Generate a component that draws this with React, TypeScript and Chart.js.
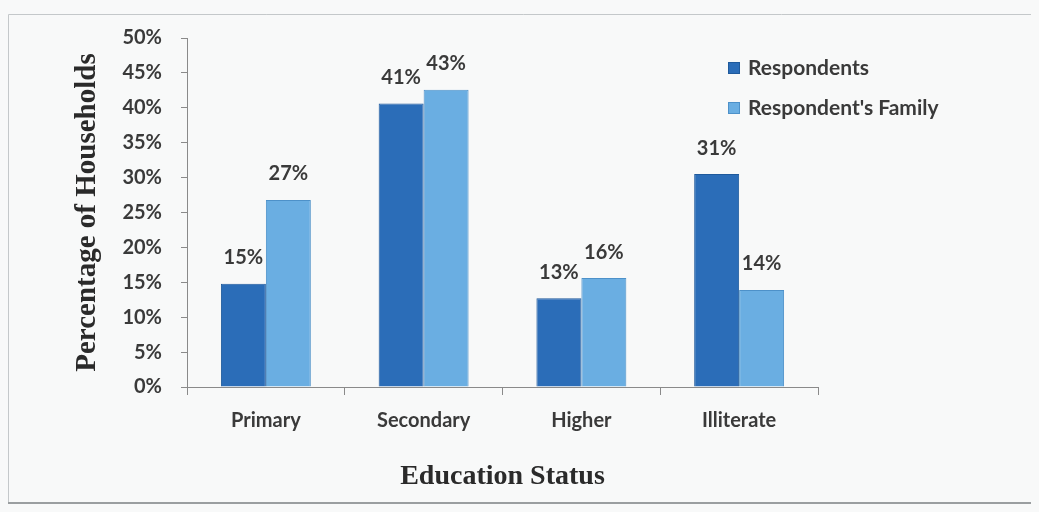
import React, { useEffect, useRef } from "react";
import { Chart, registerables } from "chart.js";

Chart.register(...registerables);

const categories = ["Primary", "Secondary", "Higher", "Illiterate"];
const respondents = [14.8, 40.6, 12.7, 30.5];
const respondentsFamily = [26.8, 42.6, 15.6, 13.9];
const seriesNames = ["Respondents", "Respondent's Family"];
const seriesColors = ["#2b6db8", "#6aaee2"];
const seriesBorders = ["#1f5a9c", "#4d91c9"];

const LABEL_FONT = "Lato, 'Open Sans', sans-serif";
const TITLE_FONT = "'Liberation Serif', 'Times New Roman', serif";
const TEXT_COLOR = "#3a3a3a";
const BG = "#f8f9f9";

const frame = {
  id: "frame",
  beforeDraw(chart: any) {
    const ctx = chart.ctx;
    const w = chart.width;
    const h = chart.height;
    ctx.save();
    ctx.fillStyle = BG;
    ctx.fillRect(0, 0, w, h);
    ctx.lineWidth = 1;
    ctx.strokeStyle = "#c4c8ca";
    ctx.beginPath();
    ctx.moveTo(8.5, h - 10);
    ctx.lineTo(8.5, 14.5);
    ctx.lineTo(w, 14.5);
    ctx.stroke();
    ctx.strokeStyle = "#9a9ea0";
    ctx.lineWidth = 2;
    ctx.beginPath();
    ctx.moveTo(8, h - 9);
    ctx.lineTo(w, h - 9);
    ctx.stroke();
    ctx.restore();
  },
};

const valueLabels = {
  id: "valueLabels",
  afterDatasetsDraw(chart: any) {
    const ctx = chart.ctx;
    ctx.save();
    ctx.font = `bold 20px ${LABEL_FONT}`;
    ctx.fillStyle = TEXT_COLOR;
    ctx.textAlign = "center";
    ctx.textBaseline = "middle";
    chart.data.datasets.forEach((ds: any, i: number) => {
      const meta = chart.getDatasetMeta(i);
      meta.data.forEach((bar: any, j: number) => {
        ctx.fillText(Math.round(ds.data[j]) + "%", bar.x, bar.y - 26);
      });
    });
    ctx.restore();
  },
};

const customLegend = {
  id: "customLegend",
  afterDraw(chart: any) {
    const ctx = chart.ctx;
    const area = chart.chartArea;
    ctx.save();
    ctx.font = `bold 21px ${LABEL_FONT}`;
    ctx.textAlign = "left";
    ctx.textBaseline = "middle";
    chart.data.datasets.forEach((ds: any, i: number) => {
      const x = area.right - 90;
      const y = area.top + 30 + i * 40;
      ctx.fillStyle = ds.backgroundColor;
      ctx.fillRect(x, y - 6, 12, 12);
      ctx.strokeStyle = ds.borderColor;
      ctx.lineWidth = 1;
      ctx.strokeRect(x + 0.5, y - 5.5, 11, 11);
      ctx.fillStyle = TEXT_COLOR;
      ctx.fillText(ds.label, x + 20, y);
    });
    ctx.restore();
  },
};

export default function App() {
  const canvasRef = useRef<HTMLCanvasElement>(null);

  useEffect(() => {
    document.body.style.background = BG;
    if (!canvasRef.current) return;
    const chart = new Chart(canvasRef.current, {
      type: "bar",
      data: {
        labels: categories,
        datasets: [
          {
            label: seriesNames[0],
            data: respondents,
            backgroundColor: seriesColors[0],
            borderColor: seriesBorders[0],
            borderWidth: 1,
          },
          {
            label: seriesNames[1],
            data: respondentsFamily,
            backgroundColor: seriesColors[1],
            borderColor: seriesBorders[1],
            borderWidth: 1,
          },
        ],
      },
      options: {
        animation: false,
        responsive: false,
        maintainAspectRatio: false,
        layout: { padding: { top: 38, right: 221, bottom: 8, left: 0 } },
        datasets: { bar: { categoryPercentage: 0.57, barPercentage: 1.0 } },
        plugins: {
          legend: { display: false },
          tooltip: { enabled: false },
        },
        scales: {
          x: {
            grid: {
              display: true,
              drawOnChartArea: false,
              drawTicks: true,
              tickLength: 8,
              color: "#8a8a8a",
              offset: true,
            },
            border: { display: true, color: "#8a8a8a" },
            ticks: {
              padding: 14,
              color: TEXT_COLOR,
              font: { family: LABEL_FONT, size: 20, weight: "bold" },
            },
            title: {
              display: true,
              text: "Education Status",
              color: "#2a2a2a",
              font: { family: TITLE_FONT, size: 28, weight: "bold" },
              padding: { top: 0, bottom: 10 },
            },
            afterFit: (s: any) => {
              s.height = 117;
            },
          },
          y: {
            min: 0,
            max: 50,
            ticks: {
              stepSize: 5,
              padding: 19,
              color: TEXT_COLOR,
              font: { family: LABEL_FONT, size: 20, weight: "bold" },
              callback: (v: any) => v + "%",
            },
            grid: {
              display: true,
              drawOnChartArea: false,
              drawTicks: true,
              tickLength: 6,
              color: "#8a8a8a",
            },
            border: { display: true, color: "#8a8a8a" },
            title: {
              display: true,
              text: "Percentage of Households",
              color: "#2a2a2a",
              font: { family: TITLE_FONT, size: 29, weight: "bold" },
              padding: { top: 70, bottom: 0 },
            },
            afterFit: (s: any) => {
              s.width = 187;
            },
          },
        },
      },
      plugins: [frame, valueLabels, customLegend],
    });
    return () => chart.destroy();
  }, []);

  return (
    <div style={{ width: 1039, height: 512, margin: -8 }}>
      <canvas
        ref={canvasRef}
        width={1039}
        height={512}
        style={{ display: "block", width: 1039, height: 512 }}
      />
    </div>
  );
}
